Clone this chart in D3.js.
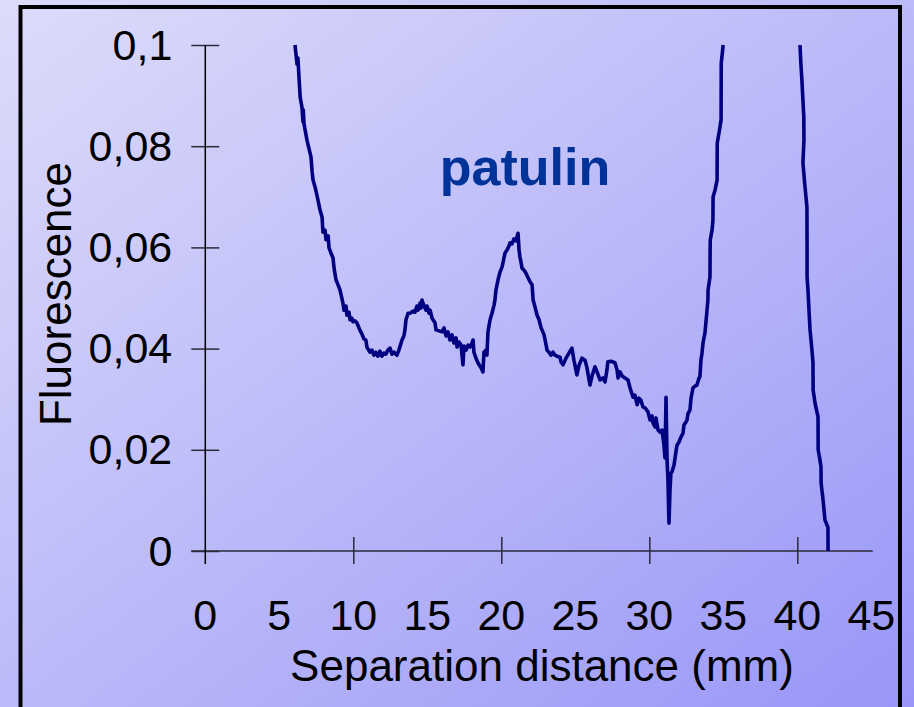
<!DOCTYPE html>
<html>
<head>
<meta charset="utf-8">
<script src="https://cdn.jsdelivr.net/npm/d3@7"></script>
<style>
  html, body { margin: 0; padding: 0; background: #d8d8fa; }
  svg { display: block; }
  text { font-family: Arial, "Liberation Sans", sans-serif; fill: #000; }
</style>
</head>
<body>
<svg id="chart" width="914" height="707"></svg>
<script>
// Scan trace: separation distance (mm) and fluorescence. A null marks where the
// trace runs above the top of the plotted range.
const distance = [
  6.06, 6.20, 6.26, 6.34, 6.41, 6.53, 6.60, 6.62, 6.67, 6.87, 7.14, 7.22, 7.28, 7.42, 7.61, 7.75,
  7.89, 7.95, 8.09, 8.16, 8.30, 8.36, 8.49, 8.63, 8.70, 8.83, 8.97, 9.10, 9.30, 9.37, 9.51, 9.57,
  9.71, 9.78, 9.91, 9.98, 10.11, 10.24, 10.44, 10.58, 10.72, 10.85, 10.92, 11.12, 11.26, 11.39,
  11.53, 11.66, 11.80, 11.93, 12.07, 12.20, 12.34, 12.48, 12.61, 12.74, 12.95, 13.08, 13.29, 13.42,
  13.49, 13.56, 13.70, 13.83, 14.03, 14.17, 14.30, 14.37, 14.51, 14.57, 14.64, 14.78, 14.91, 14.98,
  15.12, 15.19, 15.32, 15.52, 15.59, 15.79, 16.00, 16.13, 16.27, 16.40, 16.53, 16.67, 16.80, 16.94,
  17.01, 17.14, 17.28, 17.41, 17.48, 17.62, 17.75, 17.89, 18.02, 18.09, 18.15, 18.29, 18.42, 18.63,
  18.76, 18.83, 18.96, 19.03, 19.10, 19.24, 19.37, 19.51, 19.57, 19.64, 19.78, 19.91, 20.05, 20.18,
  20.25, 20.39, 20.52, 20.59, 20.72, 20.86, 20.99, 21.13, 21.20, 21.26, 21.33, 21.40, 21.54, 21.67,
  21.81, 21.94, 22.08, 22.15, 22.28, 22.42, 22.55, 22.69, 22.75, 22.89, 22.96, 23.09, 23.22, 23.36,
  23.49, 23.63, 23.76, 23.97, 24.03, 24.17, 24.37, 24.57, 24.77, 24.91, 25.11, 25.24, 25.45, 25.66,
  25.79, 25.99, 26.13, 26.33, 26.47, 26.67, 26.87, 27.01, 27.14, 27.20, 27.41, 27.68, 27.82, 27.89,
  28.02, 28.16, 28.36, 28.56, 28.70, 28.90, 29.03, 29.18, 29.30, 29.43, 29.57, 29.71, 29.91, 30.05,
  30.18, 30.25, 30.39, 30.45, 30.59, 30.72, 30.86, 30.99, 31.06, 31.13, 31.20, 31.26, 31.33, 31.40,
  31.46, 31.53, 31.67, 31.80, 31.87, 32.00, 32.14, 32.28, 32.34, 32.48, 32.55, 32.61, 32.75, 32.82,
  32.95, 33.09, 33.22, 33.36, 33.42, 33.49, 33.56, 33.63, 33.76, 33.83, 33.90, 33.96, 33.97, 34.10,
  34.11, 34.12, 34.24, 34.30, 34.31, 34.44, 34.58, 34.59, 34.72, 34.85, 34.86, 34.99,
  null,
  40.18, 40.24, 40.31, 40.38, 40.44, 40.45, 40.38, 40.51, 40.65, 40.66, 40.66, 40.72, 40.79, 40.86,
  40.99, 41.06, 41.07, 41.20, 41.40, 41.41, 41.53, 41.60, 41.61, 41.74, 41.87, 42.07, 42.08
];
const fluorescence = [
  0.1000, 0.0962, 0.0974, 0.0931, 0.0897, 0.0877, 0.0848, 0.0872, 0.0844, 0.0812, 0.0779, 0.0749, 0.0733, 0.0719, 0.0694, 0.0674,
  0.0660, 0.0630, 0.0634, 0.0615, 0.0623, 0.0599, 0.0589, 0.0579, 0.0559, 0.0536, 0.0526, 0.0516, 0.0490, 0.0476, 0.0484, 0.0466,
  0.0472, 0.0457, 0.0460, 0.0453, 0.0455, 0.0451, 0.0437, 0.0429, 0.0419, 0.0417, 0.0403, 0.0393, 0.0397, 0.0387,
  0.0393, 0.0385, 0.0395, 0.0385, 0.0391, 0.0389, 0.0397, 0.0401, 0.0389, 0.0393, 0.0387, 0.0397, 0.0417, 0.0425,
  0.0437, 0.0457, 0.0470, 0.0470, 0.0474, 0.0472, 0.0484, 0.0476, 0.0490, 0.0480, 0.0496, 0.0484, 0.0476, 0.0484,
  0.0470, 0.0476, 0.0460, 0.0451, 0.0437, 0.0435, 0.0433, 0.0441, 0.0425, 0.0433, 0.0417, 0.0427, 0.0411, 0.0421,
  0.0403, 0.0413, 0.0407, 0.0368, 0.0405, 0.0397, 0.0407, 0.0403, 0.0411, 0.0417, 0.0393, 0.0381, 0.0372, 0.0362,
  0.0354, 0.0393, 0.0397, 0.0387, 0.0433, 0.0457, 0.0470, 0.0486, 0.0496, 0.0516, 0.0536, 0.0551, 0.0561, 0.0579,
  0.0589, 0.0595, 0.0603, 0.0609, 0.0607, 0.0617, 0.0613, 0.0628, 0.0595, 0.0581, 0.0571, 0.0559, 0.0555, 0.0549,
  0.0540, 0.0532, 0.0526, 0.0496, 0.0482, 0.0466, 0.0457, 0.0441, 0.0437, 0.0427, 0.0417, 0.0397, 0.0393, 0.0387,
  0.0393, 0.0387, 0.0385, 0.0383, 0.0374, 0.0368, 0.0381, 0.0391, 0.0401, 0.0377, 0.0348, 0.0366, 0.0381, 0.0377,
  0.0362, 0.0328, 0.0346, 0.0364, 0.0354, 0.0338, 0.0342, 0.0334, 0.0358, 0.0374, 0.0375, 0.0372, 0.0358, 0.0342,
  0.0354, 0.0346, 0.0342, 0.0338, 0.0322, 0.0304, 0.0308, 0.0289, 0.0302, 0.0298, 0.0285, 0.0283, 0.0275, 0.0259,
  0.0267, 0.0253, 0.0245, 0.0263, 0.0239, 0.0235, 0.0239, 0.0209, 0.0184, 0.0304, 0.0180, 0.0140, 0.0055, 0.0121,
  0.0154, 0.0156, 0.0170, 0.0196, 0.0209, 0.0215, 0.0225, 0.0233, 0.0249, 0.0255, 0.0259, 0.0271, 0.0279, 0.0302,
  0.0322, 0.0326, 0.0328, 0.0342, 0.0344, 0.0377, 0.0391, 0.0411, 0.0431, 0.0453, 0.0476, 0.0496, 0.0516, 0.0542,
  0.0595, 0.0615, 0.0634, 0.0654, 0.0700, 0.0713, 0.0733, 0.0806, 0.0828, 0.0852, 0.0964, 0.1000,
  null,
  0.1000, 0.0964, 0.0931, 0.0891, 0.0858, 0.0812, 0.0767, 0.0723, 0.0680, 0.0605, 0.0542, 0.0516, 0.0476, 0.0437,
  0.0397, 0.0372, 0.0318, 0.0292, 0.0265, 0.0200, 0.0180, 0.0166, 0.0134, 0.0101, 0.0061, 0.0047, 0.0000
];

const xTickValues = [0, 5, 10, 15, 20, 25, 30, 35, 40, 45];
const xMajorTicks = [10, 20, 30, 40];
const yTickValues = [0, 0.02, 0.04, 0.06, 0.08, 0.1];
const yTickLabels = ["0", "0,02", "0,04", "0,06", "0,08", "0,1"];

const xTitle = "Separation distance (mm)";
const yTitle = "Fluorescence";
const seriesName = "patulin";

const svg = d3.select("#chart");
const W = 914, H = 707;

// Background gradient
const defs = svg.append("defs");
const grad = defs.append("linearGradient")
  .attr("id", "bg").attr("x1", "0").attr("y1", "0").attr("x2", "1").attr("y2", "1");
grad.append("stop").attr("offset", "0%").attr("stop-color", "#dddcfa");
grad.append("stop").attr("offset", "50%").attr("stop-color", "#bbbaf9");
grad.append("stop").attr("offset", "100%").attr("stop-color", "#9896f7");
svg.append("rect").attr("width", W).attr("height", H).attr("fill", "url(#bg)");

// Frame
svg.append("rect")
  .attr("x", 20.5).attr("y", 7).attr("width", 879.5).attr("height", 720)
  .attr("fill", "none").attr("stroke", "#000").attr("stroke-width", 4);

// Plot area
const plotLeft = 205.3, plotRight = 871.3, plotTop = 45, plotBottom = 551;
const x = d3.scaleLinear().domain([0, 45]).range([plotLeft, plotRight]);
const y = d3.scaleLinear().domain([0, 0.1]).range([plotBottom, plotTop]);

const axisColor = "#2a2a3a";

// Y axis: ticks cross the axis line
const yAxisOut = d3.axisLeft(y).tickValues(yTickValues).tickSize(14)
  .tickFormat((d, i) => yTickLabels[i]).tickPadding(0);
const gy = svg.append("g").attr("transform", `translate(${plotLeft},0)`).call(yAxisOut);
gy.select(".domain").remove();
gy.selectAll(".tick line").attr("stroke", axisColor).attr("stroke-width", 1.5);
gy.selectAll(".tick text")
  .attr("x", -33).attr("dy", null).attr("y", 14)
  .attr("font-size", 43).attr("fill", "#000")
  .style("font-family", "Arial, 'Liberation Sans', sans-serif");

const yAxisIn = d3.axisRight(y).tickValues(yTickValues).tickSize(14).tickFormat("");
const gy2 = svg.append("g").attr("transform", `translate(${plotLeft},0)`).call(yAxisIn);
gy2.select(".domain").remove();
gy2.selectAll(".tick line").attr("stroke", axisColor).attr("stroke-width", 1.5);

// X axis: major ticks cross the axis line
const xAxisOut = d3.axisBottom(x).tickValues(xMajorTicks).tickSize(13).tickFormat("");
const gx = svg.append("g").attr("transform", `translate(0,${plotBottom})`).call(xAxisOut);
gx.select(".domain").remove();
gx.selectAll(".tick line").attr("stroke", axisColor).attr("stroke-width", 1.5);
const xAxisIn = d3.axisTop(x).tickValues(xMajorTicks).tickSize(14).tickFormat("");
const gx2 = svg.append("g").attr("transform", `translate(0,${plotBottom})`).call(xAxisIn);
gx2.select(".domain").remove();
gx2.selectAll(".tick line").attr("stroke", axisColor).attr("stroke-width", 1.5);

// Axis lines
svg.append("line")
  .attr("x1", plotLeft - 14).attr("x2", x(45) + 1.5).attr("y1", plotBottom).attr("y2", plotBottom)
  .attr("stroke", axisColor).attr("stroke-width", 1.5);
svg.append("line")
  .attr("x1", plotLeft).attr("x2", plotLeft).attr("y1", plotTop).attr("y2", plotBottom + 13)
  .attr("stroke", "#000").attr("stroke-width", 1.5);

// X tick labels
svg.append("g").selectAll("text").data(xTickValues).join("text")
  .attr("x", d => x(d)).attr("y", 630)
  .attr("text-anchor", "middle").attr("font-size", 43)
  .text(d => d);

// Axis titles
svg.append("text")
  .attr("x", 542).attr("y", 681).attr("text-anchor", "middle")
  .attr("font-size", 44).text(xTitle);
svg.append("text")
  .attr("transform", "translate(71,294) rotate(-90)")
  .attr("text-anchor", "middle").attr("font-size", 44).text(yTitle);

// Series label
svg.append("text")
  .attr("x", 525).attr("y", 185).attr("text-anchor", "middle")
  .attr("font-size", 52).attr("font-weight", "bold")
  .style("fill", "#003399").text(seriesName);

// Trace
const points = distance.map((d, i) => [d, fluorescence[i]]);
const line = d3.line()
  .defined(p => p[0] !== null && p[1] !== null)
  .x(p => x(p[0])).y(p => y(p[1]));
svg.append("path")
  .datum(points)
  .attr("d", line)
  .attr("fill", "none")
  .attr("stroke", "#000080")
  .attr("stroke-width", 3.6)
  .attr("stroke-linejoin", "round");
</script>
</body>
</html>
